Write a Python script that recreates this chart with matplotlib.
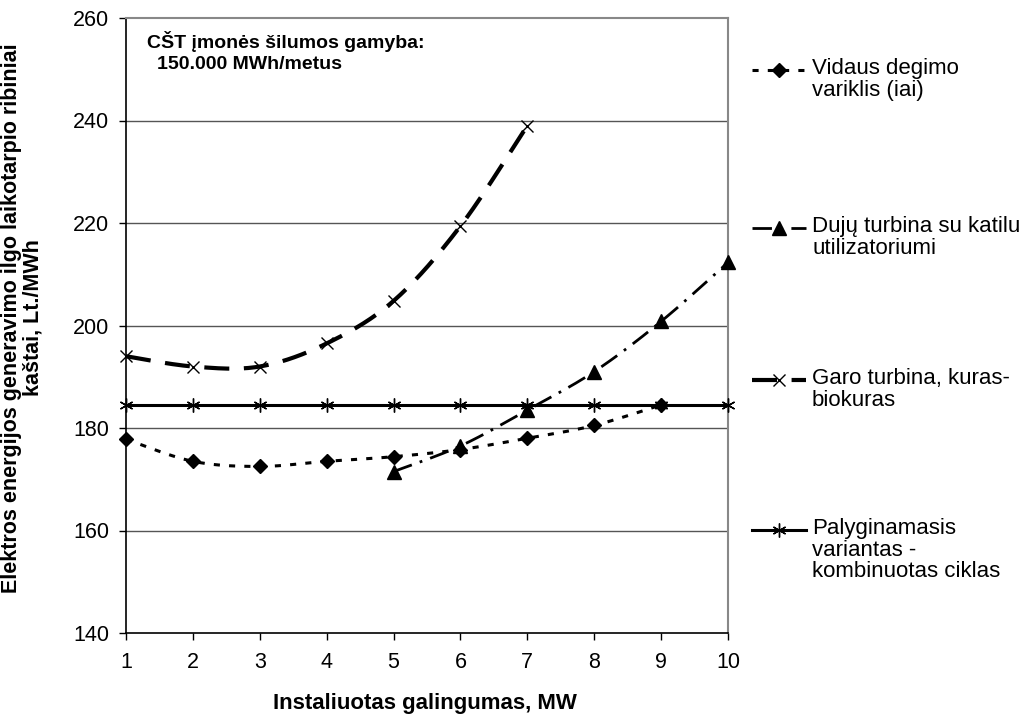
import numpy as np
import matplotlib
matplotlib.use("Agg")
import matplotlib.pyplot as plt
from matplotlib.lines import Line2D

plt.rcParams['font.family'] = ['Liberation Sans', 'DejaVu Sans']

# Installed capacity, MW
x_all = [1, 2, 3, 4, 5, 6, 7, 8, 9, 10]

# Long-run marginal generation cost, Lt/MWh
vidaus_x = [1, 2, 3, 4, 5, 6, 7, 8, 9]
vidaus_y = [177.8, 173.5, 172.5, 173.5, 174.4, 175.8, 178.0, 180.5, 184.5]

duju_x = [5, 6, 7, 8, 9, 10]
duju_y = [171.5, 176.5, 183.5, 191.0, 200.8, 212.3]

garo_x = [1, 2, 3, 4, 5, 6, 7]
garo_y = [194.0, 192.0, 192.0, 196.5, 204.8, 219.4, 239.0]

palyg_x = x_all
palyg_y = [184.5] * 10

labels = [
    "Vidaus degimo\nvariklis (iai)",
    "Dujų turbina su katilu\nutilizatoriumi",
    "Garo turbina, kuras-\nbiokuras",
    "Palyginamasis\nvariantas -\nkombinuotas ciklas",
]


def smooth(xs, ys, n=30):
    """Smoothed path through the points built from cubic Bezier segments."""
    p = np.column_stack([xs, ys]).astype(float)
    if len(p) < 3:
        return p[:, 0], p[:, 1]
    ext = np.vstack([p[0], p, p[-1]])
    out = []
    t = np.linspace(0, 1, n)[:, None]
    for i in range(1, len(ext) - 2):
        p0, p1, p2, p3 = ext[i - 1], ext[i], ext[i + 1], ext[i + 2]
        c1 = p1 + (p2 - p0) / 6.0
        c2 = p2 - (p3 - p1) / 6.0
        seg = ((1 - t) ** 3) * p1 + 3 * ((1 - t) ** 2) * t * c1 + 3 * (1 - t) * t ** 2 * c2 + t ** 3 * p2
        out.append(seg if i == 1 else seg[1:])
    out = np.vstack(out)
    return out[:, 0], out[:, 1]


W, H = 1026, 717
fig = plt.figure(figsize=(W / 100, H / 100), dpi=100)
ax = fig.add_axes([126 / W, 1 - 633 / H, (728 - 126) / W, (633 - 18) / H])

ax.set_xlim(1, 10)
ax.set_ylim(140, 260)
ax.set_yticks(range(140, 261, 20))
ax.set_xticks(x_all)

for yv in range(160, 260, 20):
    ax.axhline(yv, color='#555555', lw=1.0, zorder=1)

styles = {
    'vidaus': dict(ls=(0, (2, 3)), lw=2.2, marker='D', ms=7),
    'duju': dict(ls=(0, (7, 3, 1, 3)), lw=2.0, marker='^', ms=10),
    'garo': dict(ls=(0, (6, 3.5)), lw=3.0, marker='x', ms=8, mew=1.0),
    'palyg': dict(ls='-', lw=2.2, marker=(6, 2, 0), ms=10, mew=1.0),
}

series = [
    (vidaus_x, vidaus_y, 'vidaus'),
    (duju_x, duju_y, 'duju'),
    (garo_x, garo_y, 'garo'),
    (palyg_x, palyg_y, 'palyg'),
]

for xs, ys, key in series:
    st = styles[key]
    sx, sy = smooth(xs, ys)
    ax.plot(sx, sy, color='black', ls=st['ls'], lw=st['lw'], zorder=3, clip_on=False)
    ax.plot(xs, ys, ls='none', marker=st['marker'], ms=st['ms'], color='black',
            mew=st.get('mew', 1.0), zorder=4, clip_on=False)

for s in ['top', 'right']:
    ax.spines[s].set_color('#888888')
    ax.spines[s].set_linewidth(1.5)
for s in ['left', 'bottom']:
    ax.spines[s].set_color('black')
    ax.spines[s].set_linewidth(1.2)

ax.tick_params(axis='both', direction='out', width=1.0, color='black')
ax.tick_params(axis='x', labelsize=15.5, pad=9, length=5)
ax.tick_params(axis='y', labelsize=15.5, pad=7, length=5)

fig.text(425 / W, 1 - 703 / H, "Instaliuotas galingumas, MW", ha='center', va='center',
         fontsize=16, fontweight='bold')
fig.text(22 / W, 1 - 318 / H,
         "Elektros energijos generavimo ilgo laikotarpio ribiniai\nkaštai, Lt./MWh",
         ha='center', va='center', rotation=90, fontsize=15.5, fontweight='bold',
         linespacing=1.0)

ax.text(147 / W, 1 - 31 / H, "CŠT įmonės šilumos gamyba:", transform=fig.transFigure,
        ha='left', va='top', fontsize=14, fontweight='bold')
ax.text(157 / W, 1 - 56 / H, "150.000 MWh/metus", transform=fig.transFigure,
        ha='left', va='top', fontsize=14, fontweight='bold')

# Legend: symbol next to the first line of each entry
legend_rows = [70, 228, 380, 530]
for (xs, ys, key), label, yrow in zip(series, labels, legend_rows):
    st = styles[key]
    yf = 1 - yrow / H
    fig.add_artist(Line2D([752 / W, 806 / W], [yf, yf], transform=fig.transFigure,
                          color='black', ls=st['ls'], lw=st['lw']))
    fig.add_artist(Line2D([779 / W], [yf], transform=fig.transFigure, color='black',
                          ls='none', marker=st['marker'], ms=st['ms'], mew=st.get('mew', 1.0)))
    fig.text(812 / W, 1 - (yrow - 12) / H, label, ha='left', va='top', fontsize=16,
             linespacing=1.04)

fig.savefig("out.png", dpi=100)
